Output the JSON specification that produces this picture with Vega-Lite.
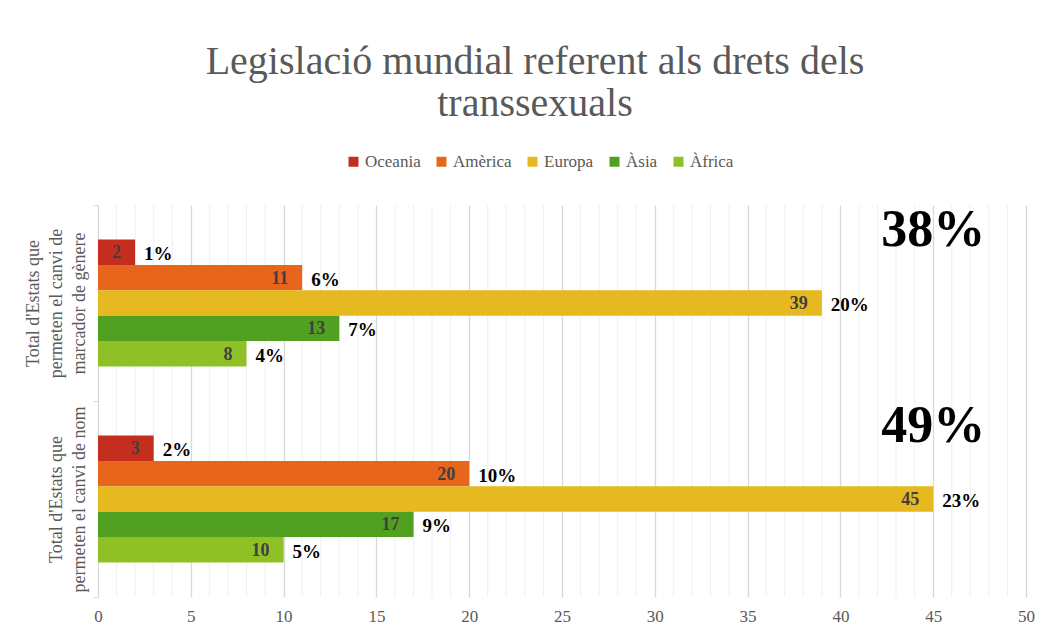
{
  "$schema": "https://vega.github.io/schema/vega-lite/v6.json",
  "autosize": {"type": "none"},
  "width": 928,
  "height": 392,
  "padding": {"left": 98, "top": 205, "right": 25, "bottom": 38},
  "background": "white",
  "config": {
    "font": "Liberation Serif",
    "view": {"stroke": null},
    "axisX": {"labelOverlap": false, "labelSeparation": 0, "labelBound": false}
  },
  "title": {
    "text": ["Legislació mundial referent als drets dels", "transsexuals"],
    "font": "Liberation Serif",
    "fontSize": 40,
    "fontWeight": "normal",
    "color": "#595959",
    "lineHeight": 42,
    "anchor": "middle",
    "dx": -27,
    "offset": 29
  },
  "datasets": {
    "bars": [
      {"cat": "Total d'Estats que|permeten el canvi de|marcador de gènere", "region": "Oceania", "value": 2, "pct": "1%"},
      {"cat": "Total d'Estats que|permeten el canvi de|marcador de gènere", "region": "Amèrica", "value": 11, "pct": "6%"},
      {"cat": "Total d'Estats que|permeten el canvi de|marcador de gènere", "region": "Europa", "value": 39, "pct": "20%"},
      {"cat": "Total d'Estats que|permeten el canvi de|marcador de gènere", "region": "Àsia", "value": 13, "pct": "7%"},
      {"cat": "Total d'Estats que|permeten el canvi de|marcador de gènere", "region": "Àfrica", "value": 8, "pct": "4%"},
      {"cat": "|Total d'Estats que|permeten el canvi de nom", "region": "Oceania", "value": 3, "pct": "2%"},
      {"cat": "|Total d'Estats que|permeten el canvi de nom", "region": "Amèrica", "value": 20, "pct": "10%"},
      {"cat": "|Total d'Estats que|permeten el canvi de nom", "region": "Europa", "value": 45, "pct": "23%"},
      {"cat": "|Total d'Estats que|permeten el canvi de nom", "region": "Àsia", "value": 17, "pct": "9%"},
      {"cat": "|Total d'Estats que|permeten el canvi de nom", "region": "Àfrica", "value": 10, "pct": "5%"}
    ],
    "totals": [
      {"cat": "Total d'Estats que|permeten el canvi de|marcador de gènere", "value": 45, "total": "38%"},
      {"cat": "|Total d'Estats que|permeten el canvi de nom", "value": 45, "total": "49%"}
    ],
    "minor": [
      {"value": 1}, {"value": 2}, {"value": 3}, {"value": 4},
      {"value": 6}, {"value": 7}, {"value": 8}, {"value": 9},
      {"value": 11}, {"value": 12}, {"value": 13}, {"value": 14},
      {"value": 16}, {"value": 17}, {"value": 18}, {"value": 19},
      {"value": 21}, {"value": 22}, {"value": 23}, {"value": 24},
      {"value": 26}, {"value": 27}, {"value": 28}, {"value": 29},
      {"value": 31}, {"value": 32}, {"value": 33}, {"value": 34},
      {"value": 36}, {"value": 37}, {"value": 38}, {"value": 39},
      {"value": 41}, {"value": 42}, {"value": 43}, {"value": 44},
      {"value": 46}, {"value": 47}, {"value": 48}, {"value": 49}
    ]
  },
  "encoding": {
    "x": {
      "field": "value",
      "type": "quantitative",
      "scale": {"domain": [0, 50], "nice": false},
      "axis": {
        "title": null,
        "values": [0, 5, 10, 15, 20, 25, 30, 35, 40, 45, 50],
        "labelOverlap": false,
        "labelSeparation": 0,
        "labelBound": false,
        "grid": true,
        "gridColor": "#d9d9d9",
        "gridWidth": 1.3,
        "domain": false,
        "ticks": false,
        "labelFont": "Liberation Serif",
        "labelFontSize": 17,
        "labelColor": "#595959",
        "labelPadding": 11,
        "labelFlush": false
      }
    },
    "y": {
      "field": "cat",
      "type": "nominal",
      "sort": null,
      "scale": {"domain": ["Total d'Estats que|permeten el canvi de|marcador de gènere", "|Total d'Estats que|permeten el canvi de nom"], "paddingInner": 0, "paddingOuter": 0},
      "axis": {
        "title": null,
        "labelExpr": "isString(datum.value) ? split(datum.value, '|') : ''",
        "labelAngle": -90,
        "labelAlign": "center",
        "labelBaseline": "middle",
        "labelFont": "Liberation Serif",
        "labelFontSize": 18,
        "labelColor": "#595959",
        "labelLineHeight": 23,
        "labelPadding": 60,
        "labelLimit": 0,
        "labelOverlap": false,
        "domainColor": "#d9d9d9",
        "tickColor": "#d9d9d9",
        "tickBand": "extent",
        "tickSize": 5
      }
    }
  },
  "layer": [
    {
      "data": {"name": "minor"},
      "mark": {"type": "rule", "color": "#efefef", "strokeWidth": 1},
      "encoding": {"y": {"value": 0}, "y2": {"value": 392}}
    },
    {
      "data": {"name": "bars"},
      "layer": [
        {
          "mark": {"type": "bar"},
          "encoding": {
            "yOffset": {
              "field": "region",
              "type": "nominal",
              "sort": ["Oceania", "Amèrica", "Europa", "Àsia", "Àfrica"],
              "scale": {"domain": ["_top", "Oceania", "Amèrica", "Europa", "Àsia", "Àfrica", "_bottom"], "paddingInner": 0, "paddingOuter": 0.36}
            },
            "color": {
              "field": "region",
              "type": "nominal",
              "scale": {
                "domain": ["Oceania", "Amèrica", "Europa", "Àsia", "Àfrica"],
                "range": ["#C52E1E", "#E8661C", "#E5B91F", "#52A022", "#8FC126"]
              },
              "legend": {
                "title": null,
                "orient": "none",
                "direction": "horizontal",
                "legendX": 247,
                "legendY": -52,
                "symbolType": "square",
                "symbolSize": 100,
                "symbolStrokeWidth": 0,
                "labelFont": "Liberation Serif",
                "labelFontSize": 17,
                "labelColor": "#595959",
                "labelOffset": 3,
                "columnPadding": 12
              }
            }
          }
        },
        {
          "mark": {"type": "text", "align": "right", "baseline": "middle", "dx": -14, "dy": 1, "font": "Liberation Serif", "fontSize": 18, "fontWeight": "bold", "color": "#404040"},
          "encoding": {
            "yOffset": {"field": "region", "type": "nominal", "sort": ["Oceania", "Amèrica", "Europa", "Àsia", "Àfrica"]},
            "text": {"field": "value", "type": "quantitative"}
          }
        },
        {
          "mark": {"type": "text", "align": "left", "baseline": "middle", "dx": 9, "dy": 2, "font": "Liberation Serif", "fontSize": 19, "fontWeight": "bold", "color": "#000000"},
          "encoding": {
            "yOffset": {"field": "region", "type": "nominal", "sort": ["Oceania", "Amèrica", "Europa", "Àsia", "Àfrica"]},
            "text": {"field": "pct", "type": "nominal"}
          }
        }
      ]
    },
    {
      "data": {"name": "totals"},
      "mark": {"type": "text", "align": "center", "baseline": "middle", "font": "Liberation Serif", "fontSize": 52, "fontWeight": "bold", "color": "#000000"},
      "encoding": {
        "y": {"field": "cat", "type": "nominal", "bandPosition": 0.13},
        "text": {"field": "total", "type": "nominal"}
      }
    }
  ]
}
